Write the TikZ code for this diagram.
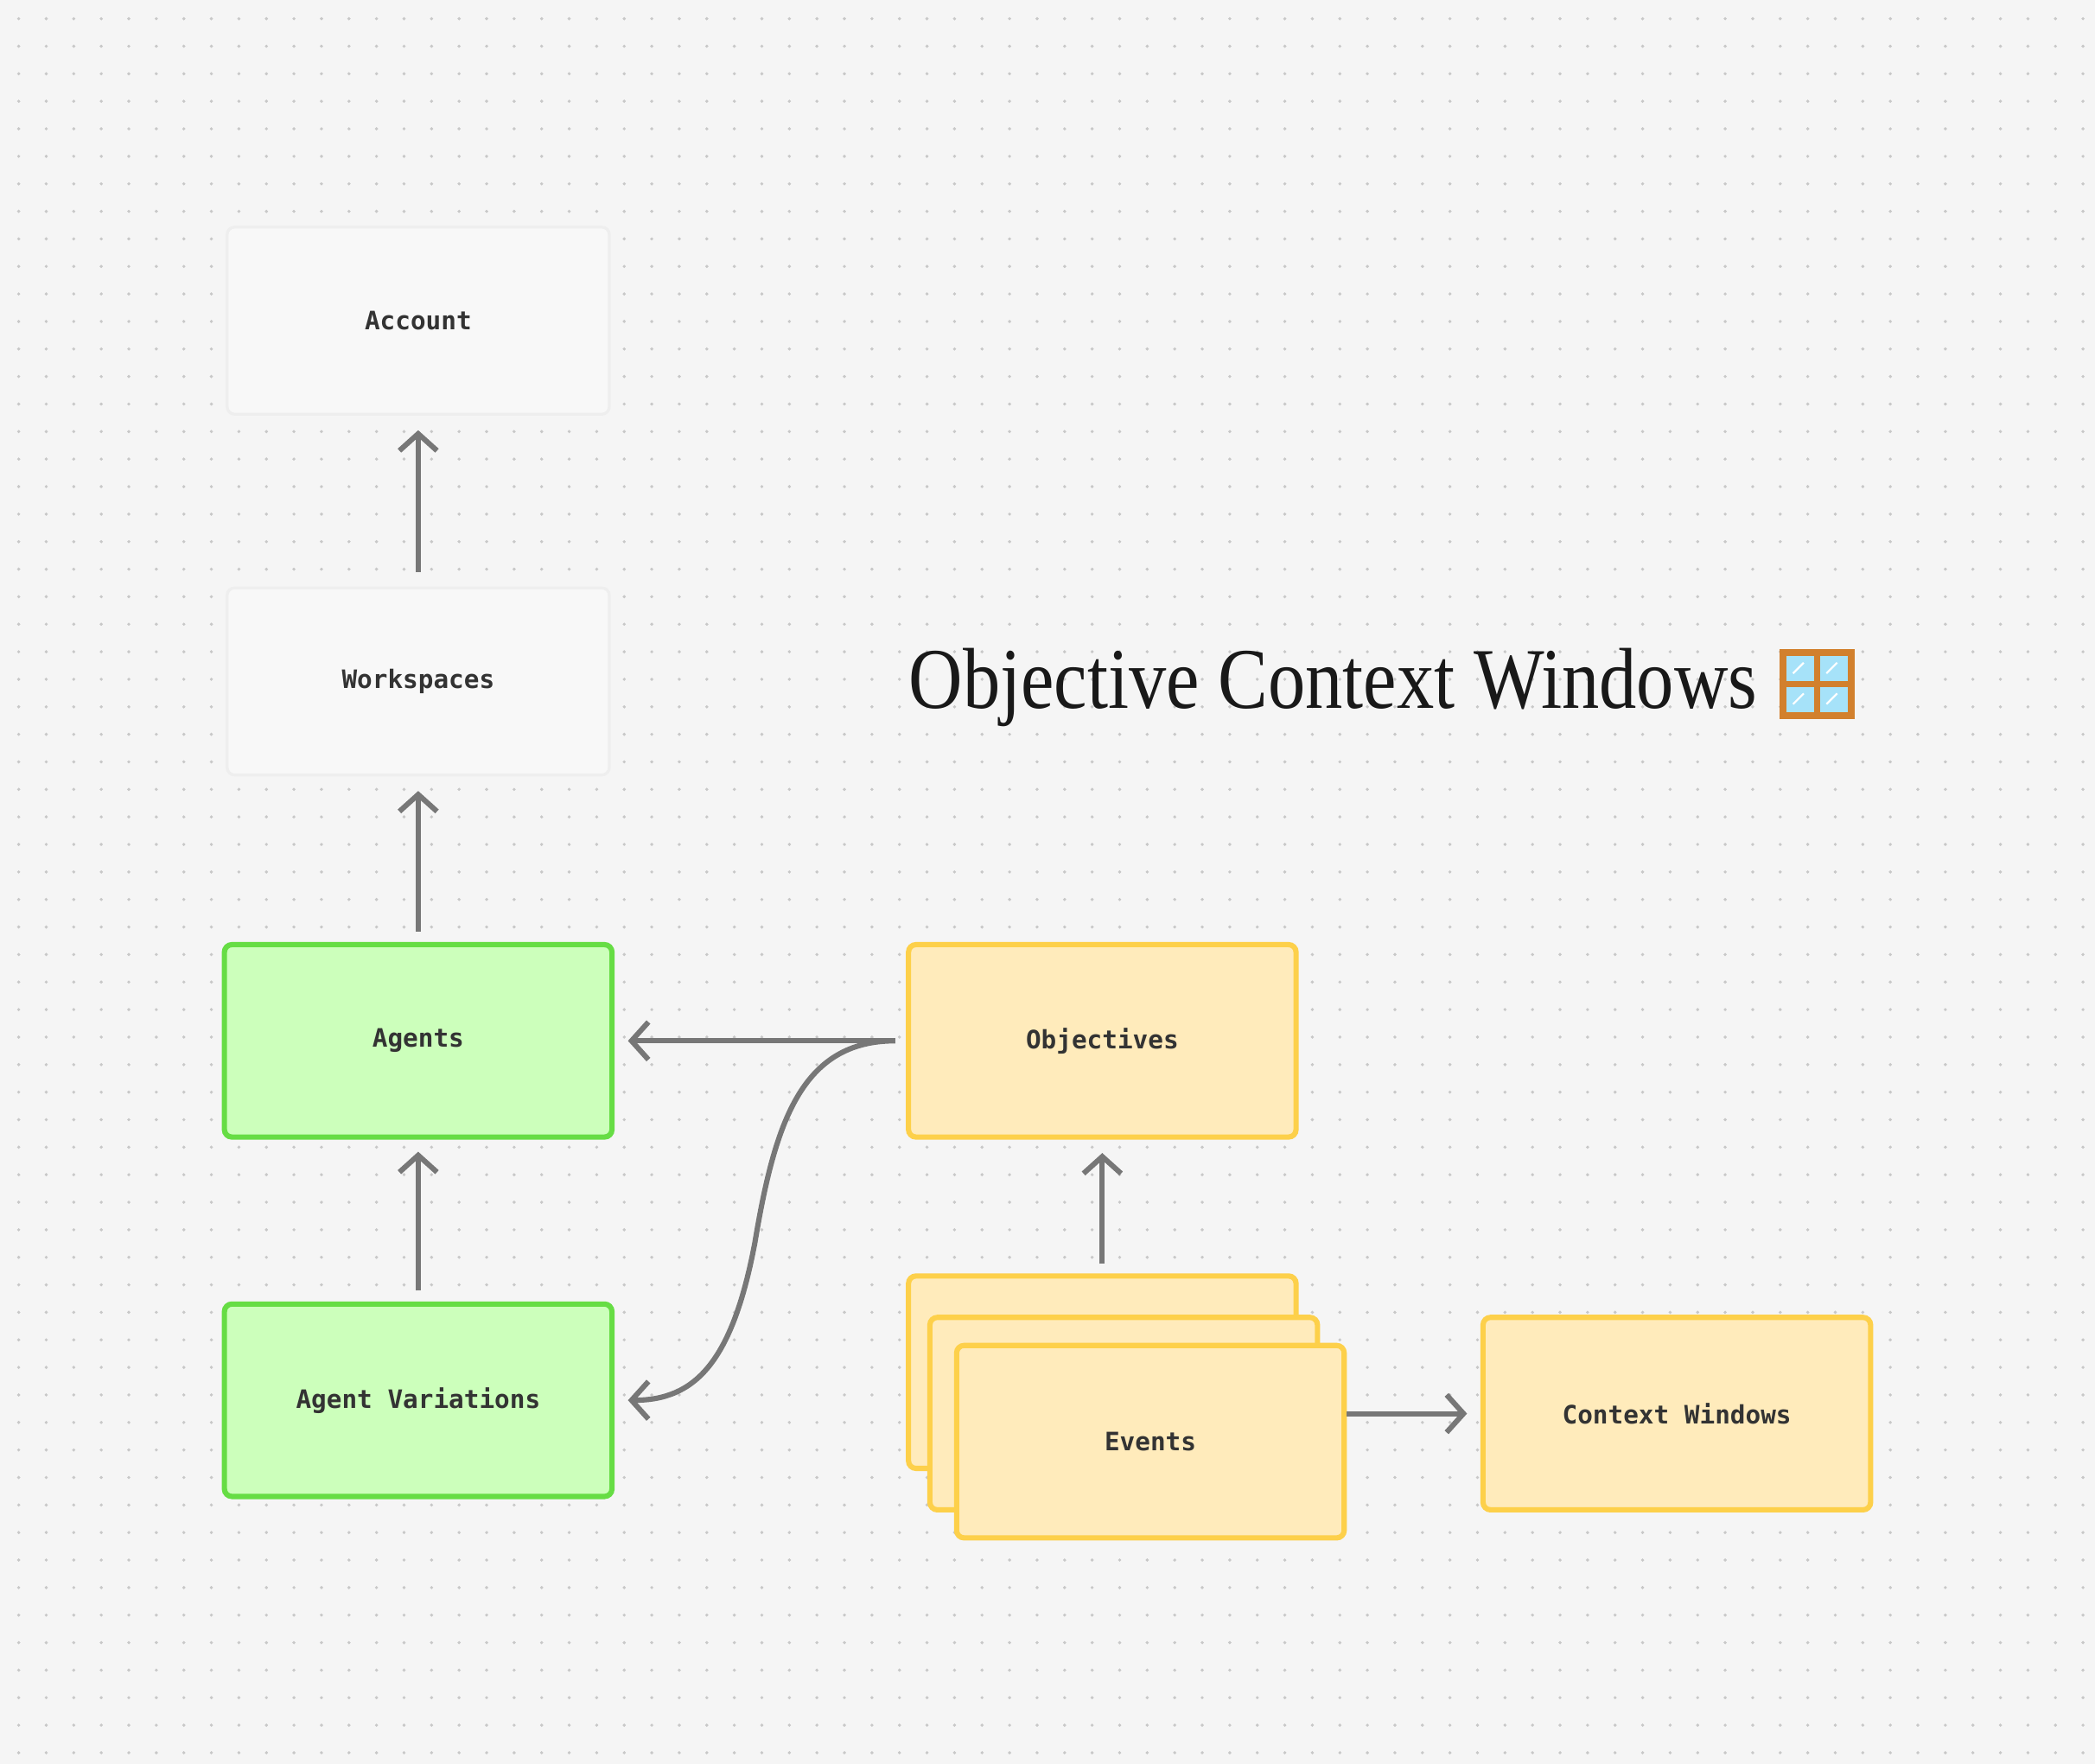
\documentclass[tikz,border=0pt]{standalone}
\usepackage{fontspec}
\setmainfont{Liberation Serif}
\setmonofont{DejaVu Sans Mono}
\usetikzlibrary{arrows.meta,calc}
\definecolor{bg}{HTML}{F5F5F5}
\definecolor{dot}{HTML}{C8C8C8}
\definecolor{gfill}{HTML}{CCFFBB}
\definecolor{gline}{HTML}{66DD44}
\definecolor{yfill}{HTML}{FFEBBB}
\definecolor{yline}{HTML}{FDD04A}
\definecolor{wfill}{HTML}{F8F8F8}
\definecolor{wline}{HTML}{EEEEEE}
\definecolor{arr}{HTML}{777777}
\begin{document}
\begin{tikzpicture}[x=0.025cm,y=-0.025cm,
 box/.style={rounded corners=4pt,line width=2.8pt,minimum width=7.25cm,minimum height=3.6cm,font=\ttfamily\bfseries\fontsize{13.5}{16}\selectfont,text=black!80},
 gbox/.style={box,fill=gfill,draw=gline},
 ybox/.style={box,fill=yfill,draw=yline},
 wbox/.style={box,fill=wfill,draw=wline,line width=1.5pt,minimum height=3.5cm,minimum width=7.15cm},
 ar/.style={draw=arr,line width=2.8pt,-{Straight Barb[length=9pt,width=20pt,line width=2.8pt]}}]
\fill[bg] (0,0) rectangle (1568,1320);
\useasboundingbox (0,0) rectangle (1568,1320);
\foreach \i in {0,...,76}{\foreach \j in {0,...,64}{\fill[dot] (14+20.6*\i,14+20.6*\j) circle (0.9pt);}}
\node[wbox] (acc) at (313,240) {Account};
\node[wbox] (ws) at (313,510) {Workspaces};
\node[gbox] (ag) at (313,779) {Agents};
\node[gbox] (av) at (313,1048) {Agent Variations};
\node[ybox] (ob) at (825,779) {Objectives};
\node[ybox] (e1) at (825,1027) {};
\node[ybox] (e2) at (841,1058) {};
\node[ybox] (ev) at (861,1079) {Events};
\node[ybox] (cw) at (1255,1058) {Context Windows};
\node[anchor=base west,font=\fontsize{46}{50}\selectfont,text=black!90,xscale=0.865,inner sep=0pt] (title) at (680,530) {Objective Context Windows};
% window emoji
\fill[brown!70!orange] (1332,486) rectangle (1388,538);
\fill[cyan!35] (1337,491) rectangle (1357.5,510);
\fill[cyan!35] (1362.5,491) rectangle (1383,510);
\fill[cyan!35] (1337,514) rectangle (1357.5,533);
\fill[cyan!35] (1362.5,514) rectangle (1383,533);
\draw[white,line width=1pt] (1342,504)--(1350,496) (1367,504)--(1375,496) (1342,527)--(1350,519) (1367,527)--(1375,519);
\coordinate (obw) at ($(ob.west)+(-8,0)$);
\draw[ar] (313,428) -- (acc.south |- 0,322);
\draw[ar] (313,697) -- (ws.south |- 0,592);
\draw[ar] (313,966) -- (ag.south |- 0,862);
\draw[ar] (obw) -- ($(ag.east)+(10,0)$);
\draw[ar] (obw) .. controls (600,779) and (580,840) .. (565,930) .. controls (548,1020) and (520,1048) .. ($(av.east)+(10,0)$);
\draw[ar] (825,946) -- ($(ob.south)+(0,10)$);
\draw[ar] (ev.east |- cw.west) -- ($(cw.west)+(-10,0)$);
\end{tikzpicture}
\end{document}
